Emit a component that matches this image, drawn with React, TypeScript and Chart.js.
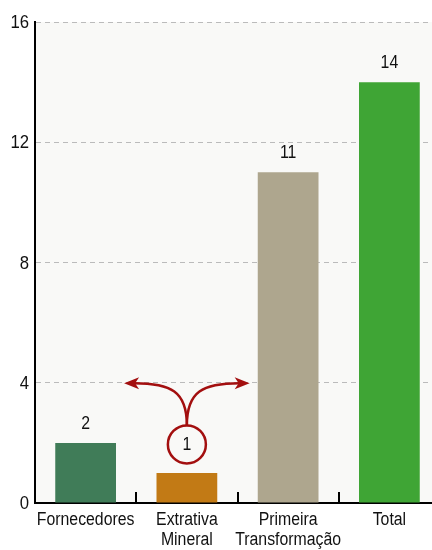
import React, { useEffect, useRef } from "react";
import { Chart, registerables } from "chart.js";

Chart.register(...registerables);

const categories: string[][] = [
  ["Fornecedores"],
  ["Extrativa", "Mineral"],
  ["Primeira", "Transformação"],
  ["Total"],
];
const values = [2, 1, 11, 14];
const barColors = ["#407c58", "#c27a15", "#aea68e", "#3fa535"];
const yTicks = [0, 4, 8, 12, 16];
const annotationCategory = 1;
const annotationText = "1";
const annotationCircleValue = 1.95;
const annotationArrowValue = 3.98;

const FONT = "'Liberation Sans', Arial, sans-serif";
const SQUEEZE = 0.88;

function drawText(ctx: any, s: string, x: number, y: number, size: number, align: string, base: string) {
  ctx.save();
  ctx.font = `${size}px ${FONT}`;
  ctx.textAlign = align;
  ctx.textBaseline = base;
  ctx.translate(x, y);
  ctx.scale(SQUEEZE, 1);
  ctx.fillText(s, 0, 0);
  ctx.restore();
}

const overlay = {
  id: "overlay",
  beforeDraw(chart: any) {
    const { ctx, chartArea } = chart;
    ctx.save();
    ctx.fillStyle = "#f9f9f7";
    ctx.fillRect(chartArea.left, chartArea.top, chartArea.right - chartArea.left, chartArea.bottom - chartArea.top);
    ctx.restore();
  },
  afterDraw(chart: any) {
    const { ctx, chartArea } = chart;
    const xs = chart.scales.x;
    const ys = chart.scales.y;
    ctx.save();
    // inner ticks between categories
    ctx.strokeStyle = "#000";
    ctx.lineWidth = 2;
    for (let i = 0; i < categories.length - 1; i++) {
      const x = Math.round((xs.getPixelForValue(i) + xs.getPixelForValue(i + 1)) / 2);
      ctx.beginPath();
      ctx.moveTo(x, chartArea.bottom);
      ctx.lineTo(x, chartArea.bottom - 11);
      ctx.stroke();
    }
    ctx.fillStyle = "#111";
    // y tick labels
    yTicks.forEach((v) => {
      drawText(ctx, String(v), chartArea.left - 6, ys.getPixelForValue(v) + 1, 19, "right", "middle");
    });
    // x tick labels
    categories.forEach((lines, i) => {
      const x = xs.getPixelForValue(i);
      lines.forEach((line, j) => {
        drawText(ctx, line, x, chartArea.bottom + 22 + j * 20, 18, "center", "alphabetic");
      });
    });
    // data labels
    const meta = chart.getDatasetMeta(0);
    meta.data.forEach((bar: any, i: number) => {
      if (i === annotationCategory) return;
      drawText(ctx, String(values[i]), bar.x, bar.y - 19, 18, "center", "middle");
    });
    // annotation
    const red = "#a30f0f";
    const cx = xs.getPixelForValue(annotationCategory);
    const cy = ys.getPixelForValue(annotationCircleValue);
    const ay = ys.getPixelForValue(annotationArrowValue);
    const step = xs.getPixelForValue(1) - xs.getPixelForValue(0);
    const r = 19;
    ctx.strokeStyle = red;
    ctx.lineWidth = 2.5;
    ctx.beginPath();
    ctx.arc(cx, cy, r, 0, Math.PI * 2);
    ctx.stroke();
    ctx.fillStyle = "#111";
    drawText(ctx, annotationText, cx, cy + 1, 18, "center", "middle");
    const dx = step * 0.62;
    [-1, 1].forEach((s) => {
      const ex = cx + s * dx;
      ctx.beginPath();
      ctx.moveTo(cx, cy - r);
      ctx.bezierCurveTo(cx, ay + 8, cx + s * 16, ay, ex - s * 10, ay);
      ctx.stroke();
      ctx.fillStyle = red;
      ctx.beginPath();
      ctx.moveTo(ex, ay);
      ctx.lineTo(ex - s * 15, ay - 6);
      ctx.lineTo(ex - s * 11, ay);
      ctx.lineTo(ex - s * 15, ay + 6);
      ctx.closePath();
      ctx.fill();
    });
    ctx.restore();
  },
};

export default function App() {
  const ref = useRef<HTMLCanvasElement>(null);
  useEffect(() => {
    const chart = new Chart(ref.current!, {
      type: "bar",
      data: {
        labels: categories.map((l) => l.join(" ")),
        datasets: [
          {
            data: values,
            backgroundColor: barColors,
            barPercentage: 0.6,
            categoryPercentage: 1,
          },
        ],
      },
      options: {
        responsive: false,
        animation: false,
        layout: { padding: { top: 22, right: 0, left: 0, bottom: 0 } },
        plugins: { legend: { display: false }, tooltip: { enabled: false } },
        scales: {
          x: {
            grid: { display: false, drawTicks: false },
            border: { display: true, color: "#000", width: 2 },
            ticks: { display: false },
            afterFit(scale: any) {
              scale.height = 47;
            },
          },
          y: {
            min: 0,
            max: 16,
            afterBuildTicks(scale: any) {
              scale.ticks = yTicks.map((v) => ({ value: v }));
            },
            grid: {
              color: "#bbbbbb",
              lineWidth: 1,
              drawTicks: false,
            },
            border: { display: true, color: "#000", width: 2, dash: [5, 4] },
            ticks: { display: false },
            afterFit(scale: any) {
              scale.width = 35;
            },
          },
        },
      },
      plugins: [overlay],
    } as any);
    return () => chart.destroy();
  }, []);
  return (
    <div style={{ position: "absolute", left: 0, top: 0, width: 432, height: 550, overflow: "hidden" }}>
      <canvas ref={ref} width={440} height={550} style={{ display: "block" }} />
    </div>
  );
}
